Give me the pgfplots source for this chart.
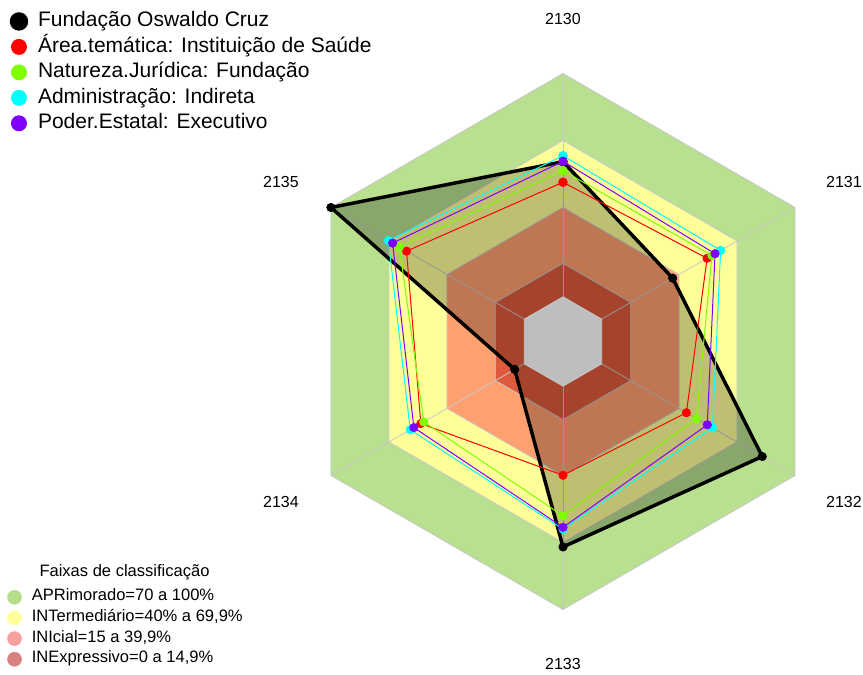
\documentclass[border=0pt]{standalone}
\usepackage{fontspec}
\setmainfont{Liberation Sans}
\usepackage{pgfplots}
\usepackage{pgfplotstable}
\pgfplotsset{compat=1.18}

\definecolor{bandApr}{HTML}{B8E08F}
\definecolor{bandInt}{HTML}{FFFF99}
\definecolor{bandIni}{HTML}{FFA070}
\definecolor{bandInx}{HTML}{DE5A3C}
\definecolor{centro}{HTML}{BEBEBE}
\definecolor{grade}{HTML}{C8C8C8}
\definecolor{legApr}{HTML}{B5DD8B}
\definecolor{legInt}{HTML}{FFFF99}
\definecolor{legIni}{HTML}{F8A0A0}
\definecolor{legInx}{HTML}{D98080}
\definecolor{verdeNJ}{HTML}{7FFF00}
\definecolor{cianoAD}{HTML}{00FFFF}
\definecolor{roxoPE}{HTML}{7F00FF}

% one row per axis (angle in degrees), last row closes the polygon
\pgfplotstableread{
a    FOC   AT    NJ    AD    PE
90   60.5  51.3  56.5  63.2  60.7
30   36.7  54.5  57.0  61.5  58.6
-30  83.0  43.8  49.0  57.3  54.6
-90  72.0  39.9  58.1  64.0  63.2
-150 5.0   53.5  52.0  59.0  57.1
150  100.0 60.9  64.6  70.3  68.1
90   60.5  51.3  56.5  63.2  60.7
}\dados

% hexagon vertices
\pgfplotstableread{
a    k
90   1
30   1
-30  1
-90  1
-150 1
150  1
90   1
}\hexa

\pgfplotsset{
  radar/.style={scale only axis, width=647.25pt, height=506.25pt,
    xmin=-252.09, xmax=134.33, ymin=-149.33, ymax=152.91,
    axis lines=none, ticks=none, clip=false},
}
% value 0 sits at 1/6 of the outer radius (radius = value + 20)
\newcommand{\hex}[2]{%
  \addplot[#2] table[x expr={(#1+20)*cos(\thisrow{a})}, y expr={(#1+20)*sin(\thisrow{a})}] \hexa;}
\newcommand{\serie}[2]{%
  \addplot[#2] table[x expr={(\thisrow{#1}+20)*cos(\thisrow{a})}, y expr={(\thisrow{#1}+20)*sin(\thisrow{a})}] \dados;}

\begin{document}
\begin{tikzpicture}
% bands, fill and band legend
\begin{axis}[radar,
  legend style={at={(axis cs:-248.96,-109.77)}, anchor=north west, draw=none, fill=none,
    inner sep=0pt, row sep=0pt, font=\fontsize{12.4}{14}\selectfont,
    nodes={inner sep=0pt, text height=10.5pt, text depth=5pt}},
  legend cell align=left]
  \hex{100}{fill=bandApr, draw=grade, line width=0.6pt, forget plot}
  \hex{70}{fill=bandInt, draw=grade, line width=0.6pt, forget plot}
  \hex{40}{fill=bandIni, draw=grade, line width=0.6pt, forget plot}
  \hex{15}{fill=bandInx, draw=grade, line width=0.6pt, forget plot}
  \pgfplotsinvokeforeach{90,30,-30,-90,-150,150}{
    \addplot[grade, line width=0.6pt, forget plot] coordinates {({20*cos(#1)},{20*sin(#1)}) ({120*cos(#1)},{120*sin(#1)})};}
  \serie{FOC}{fill=black, fill opacity=0.25, draw=none, forget plot}
  \hex{0}{fill=centro, draw=grade, line width=0.6pt, forget plot}

  \addlegendimage{legend image code/.code={\fill[legApr] (0pt,0pt) circle (5.25pt); \path (-5.25pt,0pt) (12.75pt,0pt);}}
  \addlegendentry{APRimorado=70 a 100\%}
  \addlegendimage{legend image code/.code={\fill[legInt] (0pt,0pt) circle (5.25pt); \path (-5.25pt,0pt) (12.75pt,0pt);}}
  \addlegendentry{INTermediário=40\% a 69,9\%}
  \addlegendimage{legend image code/.code={\fill[legIni] (0pt,0pt) circle (5.25pt); \path (-5.25pt,0pt) (12.75pt,0pt);}}
  \addlegendentry{INIcial=15 a 39,9\%}
  \addlegendimage{legend image code/.code={\fill[legInx] (0pt,0pt) circle (5.25pt); \path (-5.25pt,0pt) (12.75pt,0pt);}}
  \addlegendentry{INExpressivo=0 a 14,9\%}

  \node[font=\fontsize{12.4}{14}\selectfont] at (axis cs:-196.34,-103.21) {Faixas de classificação};
  \coordinate (sw) at (rel axis cs:0,0);
  \coordinate (ne) at (rel axis cs:1,1);
\end{axis}

% series
\begin{axis}[radar,
  legend style={at={(axis cs:-247.83,149.13)}, anchor=north west, draw=none, fill=none,
    inner sep=0pt, row sep=0pt, font=\fontsize{15.75}{18}\selectfont,
    nodes={inner sep=0pt, text height=13.6pt, text depth=5.5pt}},
  legend cell align=left,
  legend image code/.code={\fill[#1] (0pt,0pt) circle (5.6pt); \path (-5.6pt,0pt) (13pt,0pt);}]
  \serie{FOC}{black, line width=2.6pt, mark=*, mark size=3.2pt, mark options={line width=0.4pt}}
  \addlegendentry{Fundação Oswaldo Cruz}
  \serie{AT}{red, line width=0.75pt, mark=*, mark size=3.2pt, mark options={line width=0.4pt}}
  \addlegendentry{Área.temática: Instituição de Saúde}
  \serie{NJ}{verdeNJ, line width=0.75pt, mark=*, mark size=3.2pt, mark options={line width=0.4pt}}
  \addlegendentry{Natureza.Jurídica: Fundação}
  \serie{AD}{cianoAD, line width=0.75pt, mark=*, mark size=3.2pt, mark options={line width=0.4pt}}
  \addlegendentry{Administração: Indireta}
  \serie{PE}{roxoPE, line width=0.75pt, mark=*, mark size=3.2pt, mark options={line width=0.4pt}}
  \addlegendentry{Poder.Estatal: Executivo}

  \begin{scope}[font=\fontsize{12}{14}\selectfont]
  \node at (axis cs:0,144.4) {2130};
  \node at (axis cs:125.8,71.4) {2131};
  \node at (axis cs:125.8,-71.9) {2132};
  \node at (axis cs:0,-144.4) {2133};
  \node at (axis cs:-126.3,-71.9) {2134};
  \node at (axis cs:-126.3,71.4) {2135};
  \end{scope}
\end{axis}
\pgfresetboundingbox
\path[use as bounding box] (sw) rectangle (ne);
\end{tikzpicture}
\end{document}
